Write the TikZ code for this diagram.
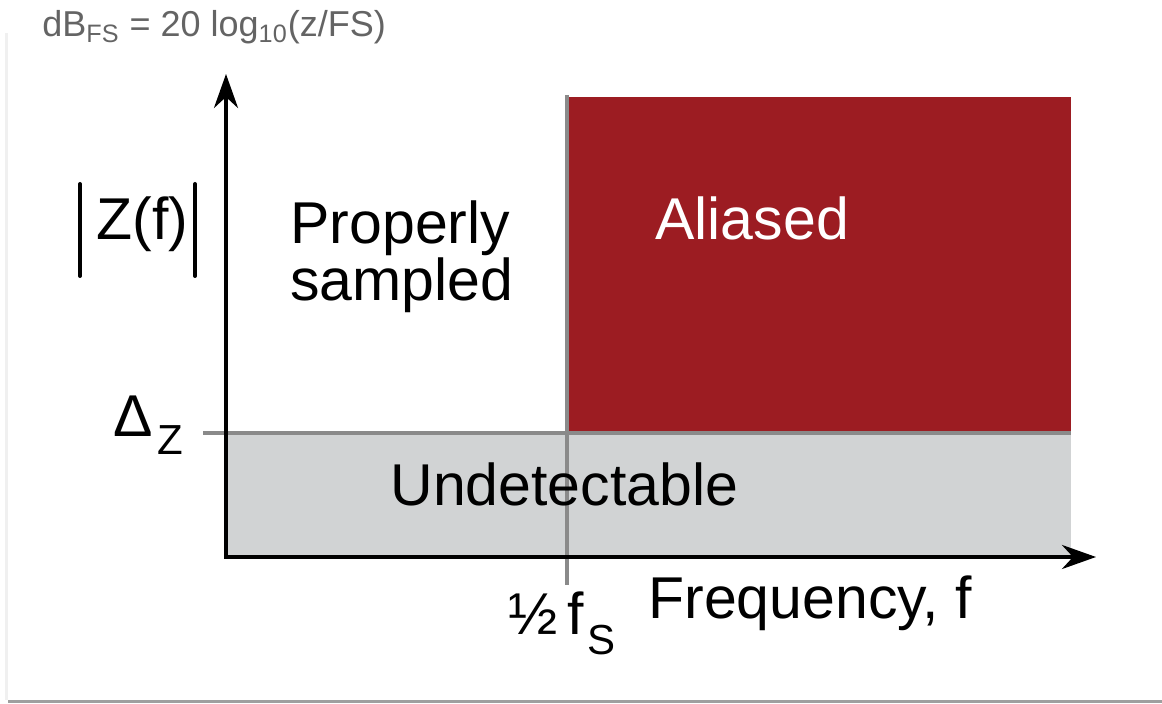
\documentclass[tikz,border=0pt]{standalone}
\usepackage{fontspec}
\setmainfont{Liberation Sans}
\usetikzlibrary{arrows.meta}
\definecolor{aliasred}{RGB}{156,28,34}
\definecolor{undetgray}{RGB}{209,211,212}
\definecolor{linegray}{RGB}{138,138,138}
\definecolor{txtgray}{RGB}{100,100,100}
\begin{document}
\begin{tikzpicture}[
        x=0.5pt, y=-0.5pt,
        font=\fontsize{29.5}{28.5}\selectfont
    ]
    \tikzset{
        lbl/.style = {inner sep=0pt, anchor=base west},
        lblw/.style = {lbl, text=white},
        lbls/.style = {lbl, font=\fontsize{21}{23}\selectfont},
        axisl/.style = {line width=2pt, black, -{Stealth[length=17pt, width=12pt, inset=5.5pt]}},
        greyl/.style = {line width=1.8pt, linegray},
        barl/.style = {line width=2pt, line cap=round},
        cardl/.style = {line width=1.5pt, gray!75},
    }
    \useasboundingbox (0,0) rectangle (1162,704);
    % card
    \draw[line width=1.5pt, gray!12] (6,33) -- (6,700);
    \draw[cardl] (8,702) -- (1162,702);
    % regions
    \fill[undetgray] (226,433) rectangle (1071,556);
    \fill[aliasred] (567,97) rectangle (1071,433);
    %
    \coordinate (o) at (226,557);
    \coordinate (ytip) at (226,74);
    \coordinate (xtip) at (1096,557);
    \coordinate (dzl) at (203,433);
    \coordinate (dzr) at (1071,433);
    \coordinate (fst) at (567,95);
    \coordinate (fsb) at (567,585);
    %
    \draw[greyl] (dzl) -- (dzr);
    \draw[greyl] (fst) -- (fsb);
    \draw[axisl] ([yshift=-1pt]o) -- (ytip);
    \draw[axisl] ([xshift=-1pt]o) -- (xtip);
    %
    \node[lbl, text=txtgray, font=\fontsize{18}{20}\selectfont] (eq) at (42,37)
        {dB\textsubscript{FS} = 20 log\textsubscript{10}(z/FS)};
    \node[lbl] (zf) at (96,240) {Z(f)};
    \draw[barl] (80,184) -- (80,276);
    \draw[barl] (195,184) -- (195,276);
    \node[lbl] (dz) at (113,437) {Δ};
    \node[lbls] (dzs) at (157,455) {Z};
    %
    \node[inner sep=0pt, anchor=north west, align=left] (prop) at (290,200) {Properly\\sampled};
    \node[lblw] (alias) at (655,240) {Aliased};
    \node[lbl] (undet) at (390,506) {Undetectable};
    \node[lbl] (half) at (508,635) {½\,f};
    \node[lbls] (fss) at (587,655) {S};
    \node[lbl] (freq) at (648,619) {Frequency, f};
\end{tikzpicture}
\end{document}
